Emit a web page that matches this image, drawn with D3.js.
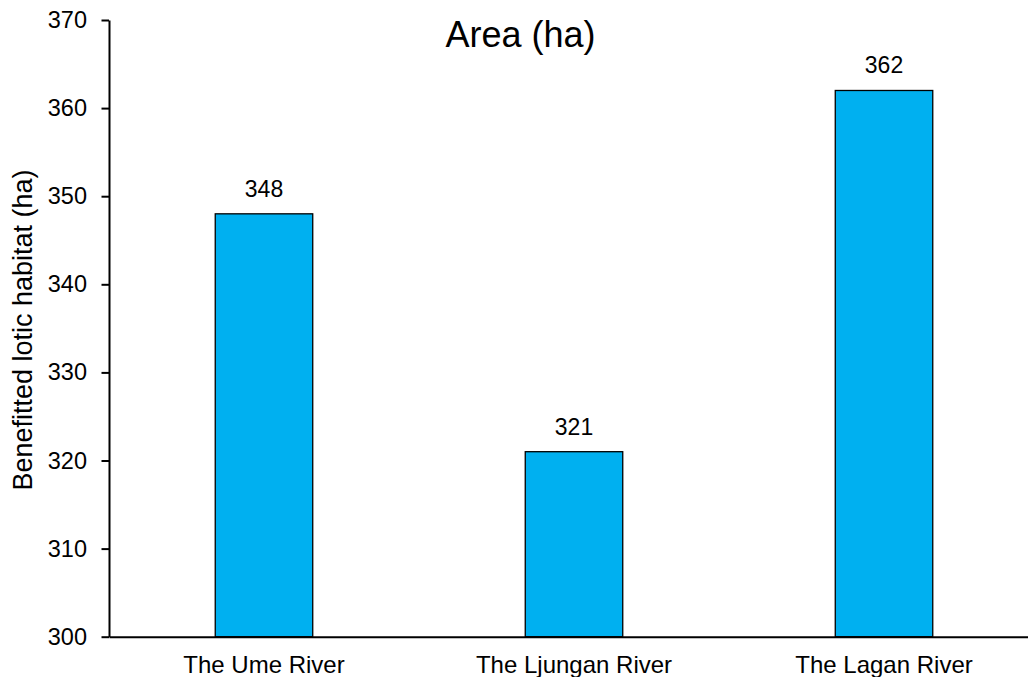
<!DOCTYPE html>
<html>
<head>
<meta charset="utf-8">
<script src="https://cdn.jsdelivr.net/npm/d3@7"></script>
<style>
  html, body { margin: 0; padding: 0; background: #fff; }
  svg { display: block; font-family: "Liberation Sans", Arial, sans-serif; }
</style>
</head>
<body>
<svg id="chart" width="1028" height="677"></svg>
<script>
// Benefitted lotic habitat per river
const rivers = ["The Ume River", "The Ljungan River", "The Lagan River"];
const areaHa = [348, 321, 362];
const yTicks = [300, 310, 320, 330, 340, 350, 360, 370];
const chartTitle = "Area (ha)";
const yTitle = "Benefitted lotic habitat (ha)";

const svg = d3.select("#chart");
const plotLeft = 109, plotTop = 20, plotBottom = 636.7, plotRight = 1039;

const x = d3.scaleBand()
  .domain(rivers)
  .range([plotLeft, plotRight])
  .paddingInner(0.6855)
  .paddingOuter(0.3427);

const y = d3.scaleLinear()
  .domain([300, 370])
  .range([plotBottom, plotTop]);

const data = rivers.map((r, i) => ({ river: r, value: areaHa[i] }));

// bars
svg.append("g").selectAll("rect")
  .data(data)
  .join("rect")
  .attr("x", d => x(d.river))
  .attr("y", d => y(d.value))
  .attr("width", x.bandwidth())
  .attr("height", d => y(300) - y(d.value))
  .attr("fill", "#00B0F0")
  .attr("stroke", "#000")
  .attr("stroke-width", 1.3);

// value labels
svg.append("g").selectAll("text")
  .data(data)
  .join("text")
  .attr("x", d => x(d.river) + x.bandwidth() / 2)
  .attr("y", d => y(d.value) - 17)
  .attr("text-anchor", "middle")
  .attr("font-size", 23)
  .attr("fill", "#000")
  .text(d => d.value);

// y axis
const yAxis = svg.append("g")
  .attr("transform", `translate(${plotLeft},0)`)
  .call(d3.axisLeft(y).tickValues(yTicks).tickSize(7.5).tickSizeOuter(0).tickPadding(14.5));
yAxis.select(".domain").attr("stroke", "#000").attr("stroke-width", 2);
yAxis.selectAll(".tick line").attr("stroke", "#000").attr("stroke-width", 2);
yAxis.selectAll(".tick text")
  .attr("font-size", 23.5)
  .attr("font-family", "Liberation Sans, Arial, sans-serif")
  .attr("fill", "#000");

// x axis
const xAxis = svg.append("g")
  .attr("transform", `translate(0,${plotBottom})`)
  .call(d3.axisBottom(x).tickSize(0).tickSizeOuter(0).tickPadding(0));
xAxis.select(".domain").attr("stroke", "#000").attr("stroke-width", 2);
xAxis.selectAll(".tick text")
  .attr("font-size", 24)
  .attr("font-family", "Liberation Sans, Arial, sans-serif")
  .attr("fill", "#000")
  .attr("dy", null)
  .attr("y", 36);

// title
svg.append("text")
  .attr("x", 520.5)
  .attr("y", 46.7)
  .attr("text-anchor", "middle")
  .attr("font-size", 36)
  .attr("fill", "#000")
  .text(chartTitle);

// y axis title
svg.append("text")
  .attr("transform", "translate(32,330) rotate(-90)")
  .attr("text-anchor", "middle")
  .attr("font-size", 27)
  .attr("fill", "#000")
  .text(yTitle);
</script>
</body>
</html>
